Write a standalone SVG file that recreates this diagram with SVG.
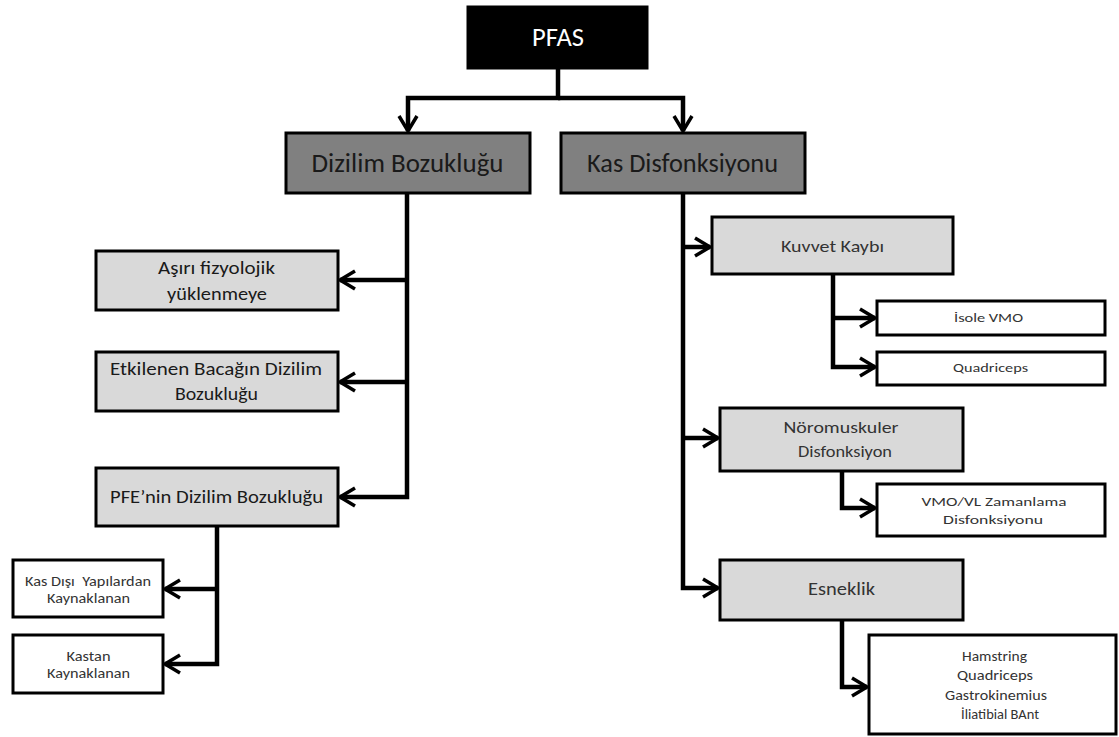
<svg xmlns="http://www.w3.org/2000/svg" width="1119" height="737" viewBox="0 0 1119 737">
<defs>
<marker id="ah" markerUnits="userSpaceOnUse" markerWidth="20" markerHeight="22" viewBox="0 0 20 22" refX="17" refY="11" orient="auto">
<path d="M2,2 L17,11 L2,20" fill="none" stroke="#000" stroke-width="3.5"/>
</marker>
<style>
.box{stroke:#000;stroke-width:3}
.dark{fill:#808080}
.light{fill:#d9d9d9}
.white{fill:#fff}
.black{fill:#000}
text{font-family:Carlito,Calibri,Lato,"Open Sans",sans-serif;text-anchor:middle;fill:#1a1a1a}
.t26{font-size:26px}
.t18{font-size:18px}
.t16{font-size:16px}
.t14{font-size:13.5px;fill:#333}
.t12{font-size:12px;fill:#333}
.con{fill:none;stroke:#000;stroke-width:4.5;stroke-linejoin:miter;marker-end:url(#ah)}
</style>
</defs>
<rect width="1119" height="737" fill="#fff"/>
<g id="connectors">
<path class="con" d="M558,68 V98 H408 V131"/>
<path class="con" d="M558,98 H683 V131"/>
<path class="con" d="M407,193 V497 H340"/>
<path class="con" d="M407,280 H340"/>
<path class="con" d="M407,382 H340"/>
<path class="con" d="M217,526 V664 H165"/>
<path class="con" d="M217,589 H165"/>
<path class="con" d="M683,193 V588 H718"/>
<path class="con" d="M683,247 H710"/>
<path class="con" d="M683,438 H718"/>
<path class="con" d="M833,273 V367 H875"/>
<path class="con" d="M833,318 H875"/>
<path class="con" d="M842,471 V508 H875"/>
<path class="con" d="M842,620 V687 H867"/>
</g>
<g id="pfas">
<rect class="box black" x="468" y="7" width="179" height="61"/>
<text class="t26" x="558" y="46" textLength="52" lengthAdjust="spacingAndGlyphs" style="fill:#fff">PFAS</text>
</g>
<g id="dizilim">
<rect class="box dark" x="286" y="133" width="244" height="60"/>
<text class="t26" x="407.5" y="172" textLength="192" lengthAdjust="spacingAndGlyphs">Dizilim Bozukluğu</text>
</g>
<g id="kas">
<rect class="box dark" x="561" y="133" width="244" height="60"/>
<text class="t26" x="682.5" y="172" textLength="191" lengthAdjust="spacingAndGlyphs">Kas Disfonksiyonu</text>
</g>
<g id="asiri">
<rect class="box light" x="96" y="251" width="242" height="59"/>
<text class="t18" x="216.5" y="274" textLength="117" lengthAdjust="spacingAndGlyphs">Aşırı fizyolojik</text>
<text class="t18" x="217" y="300" textLength="100" lengthAdjust="spacingAndGlyphs">yüklenmeye</text>
</g>
<g id="etkilenen">
<rect class="box light" x="96" y="352" width="242" height="59"/>
<text class="t18" x="216" y="375" textLength="212" lengthAdjust="spacingAndGlyphs">Etkilenen Bacağın Dizilim</text>
<text class="t18" x="216.5" y="400" textLength="83" lengthAdjust="spacingAndGlyphs">Bozukluğu</text>
</g>
<g id="pfe">
<rect class="box light" x="96" y="468" width="242" height="58"/>
<text class="t18" x="216.5" y="503" textLength="213" lengthAdjust="spacingAndGlyphs">PFE’nin Dizilim Bozukluğu</text>
</g>
<g id="kasdisi">
<rect class="box white" x="13" y="560" width="150" height="57"/>
<text class="t14" x="88" y="586" textLength="126" lengthAdjust="spacingAndGlyphs" style="white-space:pre">Kas Dışı  Yapılardan</text>
<text class="t14" x="88.5" y="603" textLength="83" lengthAdjust="spacingAndGlyphs">Kaynaklanan</text>
</g>
<g id="kastan">
<rect class="box white" x="13" y="635" width="150" height="58"/>
<text class="t14" x="88.5" y="661" textLength="44" lengthAdjust="spacingAndGlyphs">Kastan</text>
<text class="t14" x="88.5" y="678" textLength="83" lengthAdjust="spacingAndGlyphs">Kaynaklanan</text>
</g>
<g id="kuvvet">
<rect class="box light" x="712" y="217" width="241" height="57"/>
<text class="t16" x="832.5" y="251.5" textLength="103" lengthAdjust="spacingAndGlyphs" style="fill:#333">Kuvvet Kaybı</text>
</g>
<g id="isole">
<rect class="box white" x="877" y="301" width="228" height="34"/>
<text class="t12" x="988.5" y="321.5" textLength="69" lengthAdjust="spacingAndGlyphs">İsole VMO</text>
</g>
<g id="quadriceps1">
<rect class="box white" x="877" y="352" width="228" height="33"/>
<text class="t12" x="990.5" y="372" textLength="75" lengthAdjust="spacingAndGlyphs">Quadriceps</text>
</g>
<g id="noromuskuler">
<rect class="box light" x="720" y="408" width="243" height="63"/>
<text class="t16" x="841" y="433" textLength="115" lengthAdjust="spacingAndGlyphs" style="fill:#333;font-size:16.5px">Nöromuskuler</text>
<text class="t16" x="845" y="457" textLength="94" lengthAdjust="spacingAndGlyphs" style="fill:#333;font-size:16.5px">Disfonksiyon</text>
</g>
<g id="vmovl">
<rect class="box white" x="877" y="484" width="228" height="52"/>
<text class="t12" x="994" y="506" textLength="145" lengthAdjust="spacingAndGlyphs" style="font-size:13px">VMO/VL Zamanlama</text>
<text class="t12" x="993" y="524" textLength="100" lengthAdjust="spacingAndGlyphs" style="font-size:13px">Disfonksiyonu</text>
</g>
<g id="esneklik">
<rect class="box light" x="720" y="560" width="243" height="60"/>
<text class="t18" x="841.5" y="595" textLength="67" lengthAdjust="spacingAndGlyphs" style="fill:#333">Esneklik</text>
</g>
<g id="hamstring">
<rect class="box white" x="869" y="635" width="247" height="99"/>
<text class="t14" x="994.5" y="661" textLength="65" lengthAdjust="spacingAndGlyphs" style="font-size:14px">Hamstring</text>
<text class="t14" x="995" y="680" textLength="76" lengthAdjust="spacingAndGlyphs" style="font-size:14px">Quadriceps</text>
<text class="t14" x="996" y="700" textLength="102" lengthAdjust="spacingAndGlyphs" style="font-size:14px">Gastrokinemius</text>
<text class="t14" x="1000" y="719" textLength="78" lengthAdjust="spacingAndGlyphs" style="font-size:14px">İliatibial BAnt</text>
</g>
</svg>
